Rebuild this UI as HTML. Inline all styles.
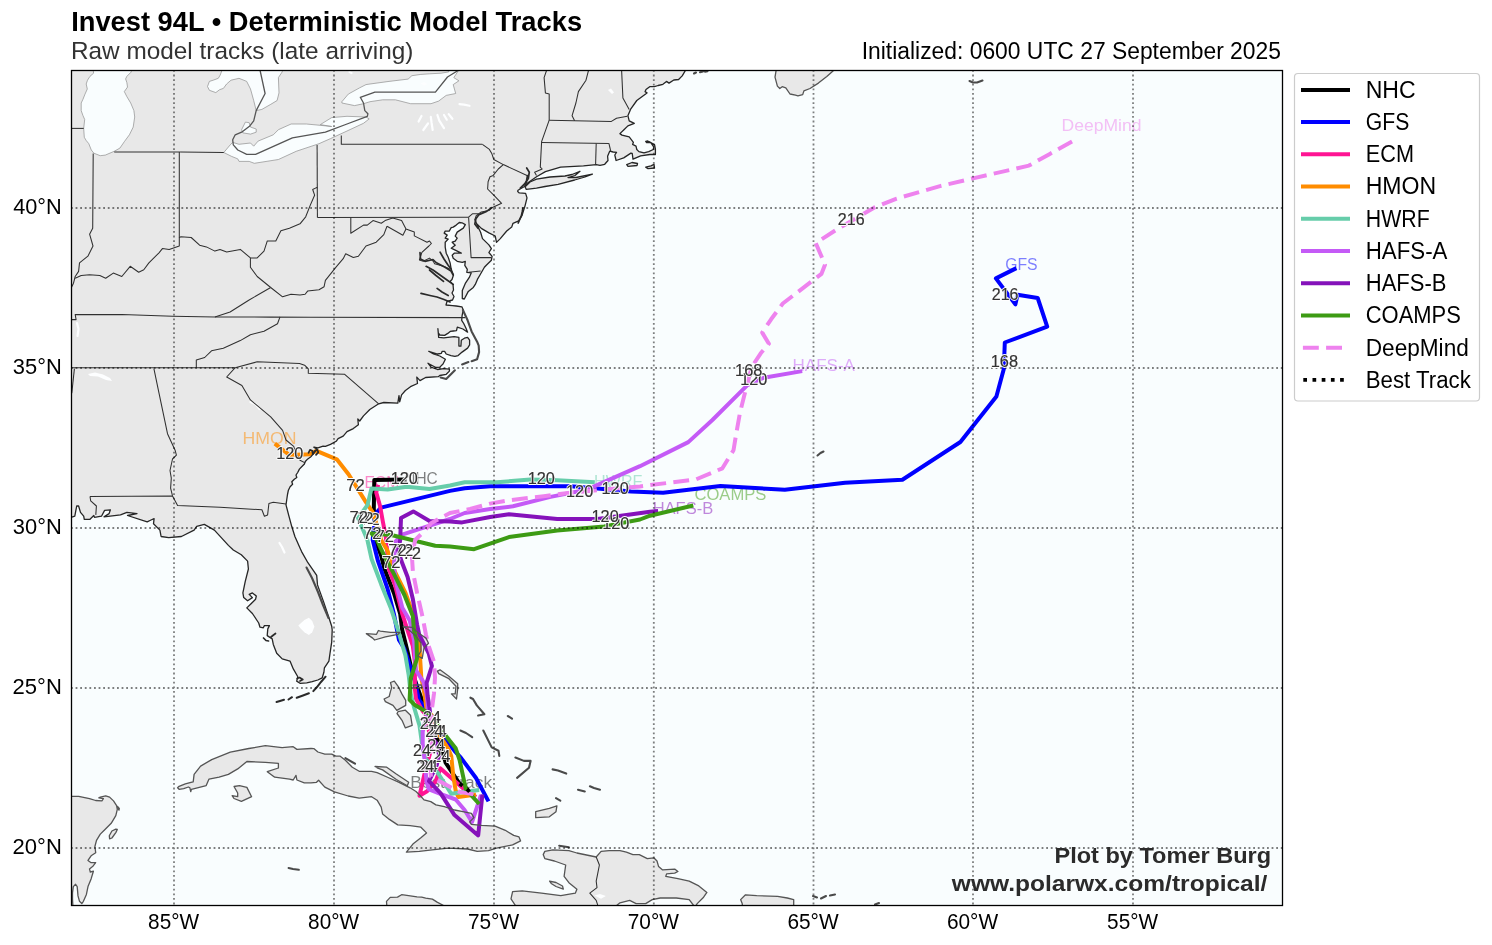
<!DOCTYPE html>
<html><head><meta charset="utf-8"><title>Invest 94L Model Tracks</title><style>html,body{margin:0;padding:0;background:#fff;}svg{display:block;will-change:transform;-webkit-font-smoothing:antialiased;}</style></head><body><svg width="1492" height="945" viewBox="0 0 1492 945" style="font-family:&quot;Liberation Sans&quot;, sans-serif">
<defs><clipPath id="mc"><rect x="71.0" y="70.0" width="1212.0" height="836.0"/></clipPath></defs>
<rect x="0" y="0" width="1492" height="945" fill="#ffffff"/>
<rect x="71.0" y="70.0" width="1212.0" height="836.0" fill="#f9fdfe"/>
<g clip-path="url(#mc)">
<path d="M71.0,70.0 L685.7,70.0 L682.2,75.9 L678.6,79.5 L673.8,80.0 L669.0,83.1 L666.5,81.4 L662.9,84.3 L658.1,85.5 L654.5,86.7 L649.7,86.7 L646.0,89.5 L645.1,91.6 L647.0,92.9 L636.8,100.5 L630.5,109.4 L627.9,115.7 L629.2,120.8 L634.3,123.3 L627.9,125.9 L623.7,130.0 L619.9,133.6 L622.0,135.1 L629.2,136.8 L633.4,142.3 L632.6,144.4 L636.0,146.1 L636.8,149.5 L638.9,151.6 L644.0,152.9 L648.7,151.6 L653.3,149.5 L653.7,146.9 L650.8,142.7 L647.8,141.0 L645.7,141.4 L646.6,142.7 L650.4,142.3 L654.6,144.8 L655.4,149.0 L655.4,154.5 L649.9,154.5 L640.6,155.8 L633.0,159.2 L632.2,153.3 L630.9,153.1 L623.7,157.9 L616.1,160.5 L614.8,155.0 L616.5,152.4 L613.1,152.0 L609.7,151.2 L607.6,156.2 L608.0,160.5 L604.7,164.3 L600.0,165.3 L596.2,164.6 L583.5,165.9 L560.6,167.1 L545.4,171.6 L536.5,176.7 L527.6,183.0 L524.5,186.5 L521.0,188.5 L518.0,190.2 L517.7,191.5 L519.3,192.9 L525.6,193.4 L527.0,197.9 L525.1,205.6 L521.9,215.7 L518.7,220.8 L513.0,223.3 L511.7,227.1 L506.7,231.0 L500.3,238.6 L496.5,242.4 L495.2,236.0 L488.9,232.9 L481.3,228.4 L476.2,223.3 L474.9,219.5 L477.5,225.9 L480.6,232.2 L482.5,238.6 L488.9,244.9 L491.4,248.7 L488.9,252.5 L492.1,256.3 L491.4,260.2 L486.3,265.2 L484.4,267.3 L480.4,274.3 L477.4,279.4 L475.3,284.4 L473.3,287.4 L468.3,291.4 L464.3,299.0 L462.3,298.5 L462.3,290.4 L465.3,283.4 L469.3,277.4 L471.3,272.8 L466.8,272.3 L467.3,269.3 L464.8,265.3 L465.3,261.3 L462.3,262.3 L457.2,261.3 L453.2,258.2 L452.2,255.2 L454.2,253.2 L461.3,253.2 L459.3,252.2 L453.2,249.2 L451.2,248.2 L455.2,245.2 L452.2,242.2 L455.2,241.1 L457.2,238.1 L455.2,236.1 L457.2,232.1 L463.3,228.1 L465.3,224.6 L462.0,222.8 L459.3,222.5 L456.2,225.1 L453.2,227.1 L451.2,227.6 L449.2,231.1 L445.2,231.1 L444.2,233.1 L447.2,235.1 L445.2,238.1 L448.2,239.1 L445.2,242.2 L445.2,247.2 L446.2,253.2 L448.2,257.2 L450.2,263.3 L451.2,269.3 L453.5,275.0 L452.0,279.5 L450.0,281.5 L453.0,284.5 L453.5,290.0 L452.0,293.0 L454.0,296.5 L452.5,300.0 L447.0,301.5 L446.0,305.0 L452.4,305.6 L456.2,306.0 L461.9,306.8 L463.3,310.0 L462.1,315.6 L461.7,320.3 L463.7,323.5 L466.0,328.3 L467.6,332.2 L462.9,329.0 L457.3,327.1 L456.5,330.6 L453.3,331.0 L450.2,331.4 L447.8,333.4 L444.6,335.4 L439.8,335.0 L438.3,333.0 L437.9,328.7 L438.7,337.4 L443.8,337.8 L454.1,336.6 L458.9,337.4 L458.9,346.1 L460.9,346.1 L461.3,340.2 L464.4,338.2 L467.6,337.4 L469.6,340.2 L469.6,344.9 L467.6,348.1 L462.1,352.1 L458.1,355.6 L454.9,356.4 L451.0,355.6 L446.2,354.0 L444.6,351.3 L442.2,351.3 L441.4,353.3 L437.5,354.0 L428.7,351.3 L433.5,354.0 L439.8,356.0 L445.4,359.2 L443.0,364.0 L439.8,367.1 L435.9,367.5 L427.9,363.2 L431.1,367.1 L437.5,369.5 L443.8,368.7 L449.4,369.1 L449.4,371.1 L446.2,374.3 L439.8,375.5 L438.3,376.7 L425.6,377.5 L420.0,380.6 L416.8,377.1 L417.5,383.5 L410.5,386.7 L405.4,390.5 L401.6,394.9 L399.7,401.9 L399.0,395.6 L397.8,403.2 L383.8,402.5 L378.7,403.8 L369.8,409.5 L363.5,415.9 L359.7,421.0 L357.8,419.0 L358.4,424.8 L353.3,428.6 L347.0,431.7 L343.2,436.2 L338.1,438.7 L336.2,441.3 L330.5,444.4 L325.4,446.3 L323.1,446.2 L318.0,447.9 L313.8,447.1 L317.1,449.2 L314.6,452.1 L311.2,456.4 L307.8,458.9 L305.3,461.5 L304.4,464.0 L301.9,466.5 L299.4,469.1 L297.7,472.5 L296.0,475.0 L296.8,477.5 L294.3,479.2 L291.8,481.8 L292.6,484.3 L290.1,486.8 L288.4,490.2 L287.5,494.5 L286.7,500.0 L286.0,504.8 L288.6,514.9 L291.7,526.3 L294.9,536.5 L300.0,547.9 L301.6,551.6 L307.9,562.7 L316.7,575.4 L317.5,584.9 L323.8,602.4 L328.6,616.7 L331.7,626.2 L332.2,630.0 L331.7,642.2 L330.0,653.3 L328.9,661.1 L324.4,667.8 L323.9,672.2 L322.2,677.8 L317.8,680.0 L312.2,681.7 L306.7,682.8 L300.0,683.3 L296.7,681.1 L297.8,676.7 L293.3,668.9 L290.0,661.1 L282.2,658.9 L276.7,653.3 L273.3,644.4 L272.2,638.9 L267.2,635.6 L267.8,628.9 L269.4,625.6 L264.4,625.6 L263.3,627.8 L260.0,627.2 L258.7,623.0 L252.4,613.5 L246.8,607.9 L250.8,604.0 L255.6,599.2 L256.3,596.0 L252.4,592.9 L249.2,594.4 L252.4,597.6 L247.6,600.8 L243.7,597.6 L242.9,592.9 L245.2,581.7 L248.4,569.0 L247.6,561.1 L241.3,554.8 L233.3,550.0 L228.4,545.4 L214.4,530.1 L204.3,524.4 L196.7,526.3 L194.1,530.1 L181.4,536.5 L168.7,537.7 L161.1,536.5 L159.9,530.1 L153.5,523.8 L154.1,518.7 L151.0,520.0 L147.2,521.9 L127.5,515.5 L137.0,513.6 L126.9,512.4 L120.5,514.9 L104.0,516.8 L109.1,513.6 L110.4,509.8 L104.6,510.4 L101.5,516.2 L94.5,517.4 L93.8,515.5 L90.0,519.3 L84.3,519.3 L83.7,516.2 L80.5,512.4 L78.6,506.0 L76.7,506.0 L74.8,516.2 L71.0,517.4 Z" fill="#e8e8e8" stroke="none"/>
<path d="M525.1,186.8 L530.0,182.0 L536.5,179.2 L550.0,177.0 L565.0,176.0 L572.0,174.5 L580.0,171.3 L575.0,175.5 L568.0,177.5 L576.0,177.5 L592.4,174.1 L585.0,177.0 L574.6,180.0 L558.1,184.3 L545.0,186.5 L536.5,188.1 L526.3,189.4 Z" fill="#e8e8e8" stroke="none"/>
<path d="M626.7,164.6 L632.0,162.5 L637.5,163.5 L637.0,165.5 L628.0,166.3 Z" fill="#e8e8e8" stroke="none"/>
<path d="M645.7,167.1 L651.0,165.8 L654.0,164.3 L654.5,168.0 L648.0,168.6 Z" fill="#e8e8e8" stroke="none"/>
<path d="M776.2,70.0 L775.0,77.1 L777.4,86.1 L779.8,88.5 L782.2,86.7 L785.8,87.9 L790.0,94.0 L795.5,95.2 L797.9,95.8 L802.7,94.6 L803.9,90.9 L810.0,88.5 L818.4,83.1 L826.8,76.5 L834.1,70.0 Z" fill="#e8e8e8" stroke="none"/>
<path d="M366.3,633.6 L372.7,638.1 L374.6,640.0 L385.4,636.8 L398.1,634.3 L400.0,632.4 L390.5,632.4 L380.3,631.1 L378.4,630.5 L376.5,634.3 Z" fill="#e8e8e8" stroke="none"/>
<path d="M403.2,626.7 L412.0,627.3 L418.4,633.0 L426.0,638.1 L428.5,643.2 L424.0,648.0 L422.2,658.4 L418.0,656.0 L421.0,651.0 L421.0,643.0 L416.0,636.0 L409.0,630.0 Z" fill="#e8e8e8" stroke="none"/>
<path d="M437.4,671.1 L440.0,669.8 L448.9,676.2 L457.7,683.8 L457.7,688.9 L456.5,699.0 L451.4,693.9 L455.2,693.9 L456.0,686.3 L448.9,678.7 L438.7,673.6 Z" fill="#e8e8e8" stroke="none"/>
<path d="M390.5,682.5 L394.3,681.2 L398.1,686.3 L401.9,693.9 L405.7,700.3 L405.7,705.4 L396.8,710.4 L393.0,705.4 L385.4,701.6 L384.1,699.0 L389.2,696.5 L390.5,691.4 L391.7,687.6 Z" fill="#e8e8e8" stroke="none"/>
<path d="M398.0,711.7 L405.4,710.2 L410.5,715.2 L412.2,725.4 L405.4,727.9 L402.0,720.3 L397.0,713.5 Z" fill="#e8e8e8" stroke="none"/>
<path d="M413.0,685.0 L421.0,684.8 L422.0,687.5 L414.0,688.0 Z" fill="#e8e8e8" stroke="none"/>
<path d="M535.7,811.7 L549.3,808.3 L556.9,805.8 L556.0,811.7 L549.3,816.8 L535.7,817.6 Z" fill="#e8e8e8" stroke="none"/>
<path d="M177.6,787.8 L179.1,786.3 L185.3,783.9 L191.0,782.4 L193.2,781.9 L194.1,774.4 L200.6,766.1 L211.7,759.6 L230.3,752.2 L248.8,748.5 L265.4,745.7 L282.1,747.6 L293.2,746.7 L296.9,749.4 L311.0,748.5 L313.8,748.6 L317.9,752.0 L324.8,754.1 L331.7,754.1 L335.8,756.1 L339.9,756.1 L345.4,760.3 L352.3,767.2 L359.2,771.3 L371.6,771.3 L377.1,772.7 L388.1,777.5 L399.1,782.3 L410.1,787.8 L416.0,791.5 L420.6,796.0 L424.0,799.9 L430.8,801.6 L435.9,804.9 L444.3,806.6 L454.5,810.0 L462.9,811.7 L471.4,813.4 L473.9,817.6 L469.7,821.9 L471.4,824.4 L481.6,825.3 L495.1,826.1 L505.3,830.3 L513.7,835.4 L519.0,836.9 L520.6,840.9 L512.6,844.9 L496.5,848.1 L488.5,850.6 L477.2,851.4 L467.6,849.0 L448.3,848.1 L432.2,849.8 L419.3,851.4 L406.4,852.2 L412.9,844.1 L420.9,837.7 L426.5,832.9 L420.9,827.2 L410.1,825.6 L397.7,824.9 L389.4,819.4 L382.6,813.9 L381.2,807.1 L377.1,800.2 L371.6,796.7 L359.2,798.1 L348.2,796.0 L334.4,791.9 L324.8,787.1 L318.6,780.2 L316.5,782.3 L311.0,782.8 L304.3,782.8 L296.9,780.0 L296.0,775.4 L293.2,780.0 L289.5,779.1 L274.7,777.2 L267.3,771.7 L278.4,768.0 L278.4,763.3 L265.4,762.4 L246.9,761.5 L237.7,768.9 L228.4,774.4 L219.1,777.2 L209.0,779.1 L206.2,785.6 L191.4,789.3 L190.7,791.7 L189.9,787.8 L188.4,787.0 L183.7,788.6 L179.1,789.3 Z" fill="#e8e8e8" stroke="none"/>
<path d="M375.0,766.5 L386.7,767.2 L396.3,774.0 L408.7,782.3 L407.3,785.7 L396.3,779.5 L382.6,769.9 L377.1,767.8 Z" fill="#e8e8e8" stroke="none"/>
<path d="M234.0,786.5 L239.5,785.6 L246.9,787.4 L251.6,796.7 L241.4,801.3 L234.0,798.5 L232.1,795.7 L237.7,796.7 L237.7,793.0 Z" fill="#e8e8e8" stroke="none"/>
<path d="M71.0,796.3 L78.7,796.3 L89.5,798.6 L95.7,800.5 L101.9,800.9 L103.4,798.6 L98.8,797.8 L100.3,797.1 L105.7,795.8 L109.6,797.1 L113.5,800.9 L116.6,805.6 L117.3,809.4 L115.8,815.6 L111.2,823.3 L105.0,829.5 L100.3,834.1 L96.5,840.3 L94.9,846.5 L95.7,852.7 L91.1,855.8 L88.0,860.4 L91.1,862.7 L95.7,862.7 L92.6,866.6 L89.5,868.9 L90.3,872.0 L93.4,871.2 L91.1,878.9 L88.0,886.6 L86.4,894.4 L83.4,901.3 L81.8,903.6 L79.5,901.3 L78.0,895.9 L77.2,886.6 L75.6,884.3 L73.3,886.6 L72.5,892.8 L72.5,899.0 L73.0,908.0 L69.0,908.0 L69.0,796.3 Z" fill="#e8e8e8" stroke="none"/>
<path d="M117.3,829.5 L115.8,832.6 L111.9,838.0 L109.6,838.8 L109.3,835.7 L111.9,831.0 L115.8,829.2 Z" fill="#e8e8e8" stroke="none"/>
<path d="M117.5,806.3 L119.3,808.5 L119.0,810.2 L117.8,808.5 Z" fill="#e8e8e8" stroke="none"/>
<path d="M543.2,854.6 L544.8,851.4 L552.8,849.8 L568.9,850.6 L576.9,853.0 L596.2,857.0 L601.1,851.4 L609.1,850.6 L620.0,850.6 L626.4,852.2 L632.9,854.6 L639.3,854.6 L647.3,858.6 L653.8,857.8 L657.0,861.0 L658.6,866.6 L662.6,869.9 L674.7,869.1 L677.9,871.5 L674.7,873.1 L666.6,873.9 L665.8,876.3 L677.9,878.7 L689.2,881.1 L698.8,885.9 L706.9,892.4 L703.6,897.2 L697.2,903.6 L695.6,906.0 L694.0,906.0 L689.2,899.6 L676.3,898.0 L660.2,898.0 L652.2,899.6 L645.7,903.6 L636.1,903.6 L629.7,900.4 L620.0,902.8 L616.0,906.0 L515.8,906.0 L511.0,898.8 L512.6,891.6 L522.2,890.8 L541.5,893.2 L560.8,895.6 L575.3,893.2 L576.9,889.2 L568.9,882.7 L564.1,876.3 L565.7,865.0 L554.4,861.0 L544.8,858.6 Z" fill="#e8e8e8" stroke="none"/>
<path d="M549.6,881.1 L556.0,882.5 L562.5,886.0 L563.3,889.2 L556.0,886.5 L551.2,883.5 Z" fill="#e8e8e8" stroke="none"/>
<path d="M742.2,903.6 L740.6,899.6 L745.5,894.8 L756.7,895.6 L777.6,896.4 L787.3,898.0 L793.7,899.6 L793.7,906.0 L742.5,906.0 Z" fill="#e8e8e8" stroke="none"/>
<path d="M386.8,906.0 L386.5,901.4 L390.2,897.4 L397.5,897.1 L401.6,894.7 L406.9,895.4 L417.0,896.8 L421.7,897.1 L425.7,898.1 L432.4,899.1 L437.1,902.1 L444.5,906.0 Z" fill="#e8e8e8" stroke="none"/>
<path d="M93.2,70.0 L93.6,73.2 L90.0,76.3 L87.5,80.2 L86.2,84.0 L87.3,89.0 L85.0,94.1 L83.0,99.2 L81.2,103.0 L81.2,110.6 L83.0,115.7 L84.7,119.5 L83.7,128.4 L84.3,137.3 L86.2,140.5 L88.8,143.7 L91.3,150.0 L93.9,153.2 L100.2,155.7 L105.3,155.1 L114.2,151.3 L119.9,148.1 L124.3,141.7 L129.4,134.8 L133.2,127.1 L134.7,117.0 L133.9,110.6 L130.7,103.0 L126.9,96.7 L124.3,91.6 L127.5,87.1 L126.9,82.7 L125.6,78.9 L126.9,76.3 L130.7,72.5 L132.0,70.0 Z" fill="#f9fdfe" stroke="none"/>
<path d="M222.1,70.0 L220.2,75.1 L218.3,78.3 L213.2,80.2 L209.4,81.4 L207.5,86.5 L209.4,90.3 L215.8,92.6 L219.6,89.7 L223.4,88.4 L226.6,84.0 L231.0,80.2 L239.0,78.3 L246.7,81.4 L250.5,89.0 L253.7,100.5 L256.2,110.6 L261.9,109.4 L270.8,104.3 L277.1,100.5 L279.0,92.9 L278.4,77.6 L282.2,71.9 L282.5,70.0 Z" fill="#f9fdfe" stroke="none"/>
<path d="M245.4,122.1 L249.2,122.7 L250.5,127.1 L256.2,129.0 L256.2,132.2 L250.5,134.1 L242.9,132.9 L241.6,129.7 Z" fill="#f9fdfe" stroke="none"/>
<path d="M223.8,152.5 L230.2,144.9 L232.7,142.4 L239.0,144.3 L250.5,143.0 L253.7,146.2 L258.1,141.1 L273.3,134.8 L278.4,129.7 L291.1,124.0 L306.3,124.0 L319.0,125.2 L331.7,126.5 L320.3,124.6 L331.7,117.6 L347.0,116.3 L366.0,117.0 L369.2,118.9 L363.5,123.3 L347.0,131.0 L330.5,138.6 L319.0,143.7 L296.2,151.3 L278.4,159.5 L254.3,163.3 L249.2,161.4 L239.0,161.4 L237.8,158.9 L231.4,156.3 Z" fill="#f9fdfe" stroke="none"/>
<path d="M370.0,84.0 L389.0,81.4 L408.1,79.1 L411.9,75.7 L420.8,74.4 L429.7,73.8 L441.1,73.2 L448.7,71.9 L449.0,70.0 L458.9,70.0 L453.8,77.6 L458.9,80.8 L453.2,84.6 L455.7,93.5 L446.2,95.4 L438.6,101.1 L431.0,103.7 L410.6,103.7 L395.4,99.8 L382.7,99.8 L370.0,101.7 L363.5,103.7 L354.6,105.6 L341.9,103.0 L341.9,101.7 L348.3,94.1 L359.7,87.8 L366.0,84.6 Z" fill="#f9fdfe" stroke="none"/>
<path d="M298.3,625.6 L304.4,620.0 L308.9,617.8 L312.2,621.1 L314.4,626.7 L312.2,632.2 L308.9,635.0 L304.4,632.2 L301.1,628.9 Z" fill="#fdfeff" stroke="none"/>
<path d="M88.0,374.0 L95.0,372.5 L103.0,374.5 L110.0,378.0 L112.0,381.0 L106.0,380.0 L98.0,376.5 L90.0,376.0 Z" fill="#fdfeff" stroke="none"/>
<path d="M420.5,83.5 L424.0,82.0 L427.5,84.0 L424.0,85.5 Z" fill="#fdfeff" stroke="none"/>
<path d="M608.0,90.0 L611.0,88.5 L614.0,92.5 L612.0,94.0 Z" fill="#fdfeff" stroke="none"/>
<path d="M594.6,895.5 L600.0,894.0 L605.9,896.0 L601.0,898.8 Z" fill="#fdfeff" stroke="none"/>
<path d="M459.5,104.2 L464.0,104.6 L469.5,105.8" fill="none" stroke="#fdfeff" stroke-width="2.2" stroke-linecap="round" stroke-linejoin="round"/>
<path d="M418.6,121.6 L421.5,116.0" fill="none" stroke="#fdfeff" stroke-width="2.2" stroke-linecap="round" stroke-linejoin="round"/>
<path d="M423.3,130.0 L428.0,123.5" fill="none" stroke="#fdfeff" stroke-width="2.2" stroke-linecap="round" stroke-linejoin="round"/>
<path d="M430.8,116.9 L431.6,123.0 L432.7,130.0" fill="none" stroke="#fdfeff" stroke-width="2.2" stroke-linecap="round" stroke-linejoin="round"/>
<path d="M437.4,115.0 L439.3,120.7 L444.0,128.2" fill="none" stroke="#fdfeff" stroke-width="2.2" stroke-linecap="round" stroke-linejoin="round"/>
<path d="M444.0,115.0 L446.8,119.7" fill="none" stroke="#fdfeff" stroke-width="2.2" stroke-linecap="round" stroke-linejoin="round"/>
<path d="M448.7,114.1 L452.4,118.8" fill="none" stroke="#fdfeff" stroke-width="2.2" stroke-linecap="round" stroke-linejoin="round"/>
<path d="M349.5,72.0 L351.5,73.0" fill="none" stroke="#fdfeff" stroke-width="2.2" stroke-linecap="round" stroke-linejoin="round"/>
<path d="M279.5,543.0 L282.0,547.0 L284.5,552.5" fill="none" stroke="#fdfeff" stroke-width="2.2" stroke-linecap="round" stroke-linejoin="round"/>
<path d="M250.5,402.0 L256.0,404.5 L259.5,409.0" fill="none" stroke="#fdfeff" stroke-width="2.2" stroke-linecap="round" stroke-linejoin="round"/>
<path d="M77.0,323.0 L78.5,329.0 L77.5,336.0" fill="none" stroke="#fdfeff" stroke-width="2.2" stroke-linecap="round" stroke-linejoin="round"/>
<text x="242.56" y="444.10" font-size="17.2" textLength="54.03" lengthAdjust="spacingAndGlyphs" fill="#ff8c00" fill-opacity="0.5">HMON</text>
<text x="364.42" y="487.60" font-size="17.2" textLength="34.87" lengthAdjust="spacingAndGlyphs" fill="#ff1493" fill-opacity="0.5">ECM</text>
<text x="404.24" y="483.80" font-size="17.2" textLength="33.55" lengthAdjust="spacingAndGlyphs" fill="#000000" fill-opacity="0.5">NHC</text>
<text x="594.09" y="486.90" font-size="17.2" textLength="48.25" lengthAdjust="spacingAndGlyphs" fill="#66cdaa" fill-opacity="0.5">HWRF</text>
<text x="694.43" y="500.40" font-size="17.2" textLength="71.99" lengthAdjust="spacingAndGlyphs" fill="#3d9b14" fill-opacity="0.5">COAMPS</text>
<text x="652.66" y="513.50" font-size="17.2" textLength="60.58" lengthAdjust="spacingAndGlyphs" fill="#8512ba" fill-opacity="0.5">HAFS-B</text>
<text x="792.62" y="371.10" font-size="17.2" textLength="62.25" lengthAdjust="spacingAndGlyphs" fill="#c45af6" fill-opacity="0.5">HAFS-A</text>
<text x="1005.17" y="270.40" font-size="17.2" textLength="32.52" lengthAdjust="spacingAndGlyphs" fill="#0000ff" fill-opacity="0.5">GFS</text>
<text x="1061.57" y="131.00" font-size="17.2" textLength="79.95" lengthAdjust="spacingAndGlyphs" fill="#ee82ee" fill-opacity="0.5">DeepMind</text>
<text x="410.19" y="788.30" font-size="17.2" textLength="81.86" lengthAdjust="spacingAndGlyphs" fill="#000000" fill-opacity="0.5">Best Track</text>
<path d="M473.5,795.7 L466.5,788.7 L459.5,783.7 L445.6,762.7 L441.8,748.3 L435.4,735.6 L431.7,731.2 L425.5,710.4 L422.0,700.0 L418.1,689.3 L411.7,670.2 L407.5,651.2 L402.2,630.0 L400.2,614.0 L393.9,592.9 L384.3,568.6 L381.2,555.9 L376.9,544.2 L373.8,509.0 L374.3,480.0 L405.7,479.5" fill="none" stroke="#000000" stroke-width="4.0" stroke-linejoin="round" stroke-linecap="butt"/>
<path d="M488.5,801.4 L476.0,778.0 L460.8,757.6 L454.5,750.8 L445.6,739.4 L437.0,731.2 L425.5,710.4 L422.3,704.1 L419.0,700.0 L414.9,680.8 L410.7,668.1 L404.0,648.0 L399.0,640.0 L393.9,614.0 L387.5,588.7 L378.0,561.2 L372.7,540.0 L374.5,520.0 L377.0,512.0 L381.0,507.6 L450.0,490.9 L464.7,488.2 L490.2,486.2 L570.6,486.2 L594.8,488.2 L631.0,491.6 L663.1,492.8 L720.4,486.0 L784.8,489.8 L845.1,482.7 L902.4,479.7 L960.4,442.0 L996.4,396.5 L1003.8,368.9 L1004.8,342.5 L1047.2,326.6 L1037.7,298.0 L1017.5,294.8 L1015.4,304.4 L995.9,278.4 L1016.4,268.1" fill="none" stroke="#0000ff" stroke-width="4.0" stroke-linejoin="round" stroke-linecap="butt"/>
<path d="M476.0,797.0 L462.7,788.1 L440.5,768.4 L435.4,781.7 L427.1,791.3 L419.5,795.7 L424.6,773.5 L429.6,755.0 L431.7,744.9 L429.6,735.4 L426.6,715.7 L422.3,710.4 L416.0,698.8 L414.9,689.3 L414.9,661.7 L412.8,645.9 L407.5,630.0 L402.3,614.0 L394.9,584.4 L388.6,568.6 L386.5,543.2 L385.7,536.2 L382.9,521.9 L380.0,505.7 L376.2,492.4 L378.1,484.8" fill="none" stroke="#ff1493" stroke-width="4.0" stroke-linejoin="round" stroke-linecap="butt"/>
<path d="M476.0,794.4 L458.3,797.0 L455.7,790.6 L453.2,775.4 L451.3,756.3 L448.1,748.3 L437.3,731.8 L432.9,716.8 L426.6,709.4 L424.4,693.5 L421.3,677.6 L420.2,659.6 L419.0,640.0 L415.0,619.4 L405.5,592.9 L394.9,571.7 L387.5,550.6 L381.2,540.0 L373.3,513.3 L372.4,511.8 L365.6,501.6 L348.7,474.5 L336.8,459.3 L316.5,450.8 L309.7,454.2 L289.4,455.0 L274.8,443.7" fill="none" stroke="#ff8c00" stroke-width="4.0" stroke-linejoin="round" stroke-linecap="butt"/>
<path d="M479.2,790.0 L468.4,791.3 L451.3,793.8 L444.3,783.0 L437.3,772.2 L425.0,758.0 L422.1,744.5 L419.5,725.4 L413.8,706.4 L410.7,693.5 L408.6,674.4 L405.4,655.4 L398.0,630.0 L390.7,607.7 L381.2,584.4 L371.6,559.0 L367.4,540.0 L363.8,531.4 L358.1,518.1 L367.6,504.8 L371.4,488.6 L387.6,489.5 L406.7,486.7 L429.5,489.0 L450.0,485.5 L464.7,482.2 L496.9,482.2 L530.4,479.5 L557.2,480.2 L594.8,482.2" fill="none" stroke="#66cdaa" stroke-width="4.0" stroke-linejoin="round" stroke-linecap="butt"/>
<path d="M481.0,795.0 L472.0,822.0 L464.6,810.0 L455.7,799.5 L441.7,794.4 L429.0,789.4 L426.5,781.7 L425.9,774.1 L424.6,760.0 L422.7,744.5 L422.7,731.8 L427.6,711.5 L427.6,704.1 L426.6,693.5 L423.4,681.9 L416.0,670.2 L414.0,640.0 L409.7,620.4 L402.3,607.7 L397.0,586.6 L393.9,567.5 L394.9,542.1 L402.9,534.3 L450.0,519.0 L464.7,513.0 L490.2,509.0 L513.0,506.3 L550.5,496.9 L584.0,490.2 L594.8,486.2 L640.0,466.2 L688.3,442.1 L712.4,420.0 L747.4,385.2 L763.7,377.8 L802.2,371.1" fill="none" stroke="#c45af6" stroke-width="4.0" stroke-linejoin="round" stroke-linecap="butt"/>
<path d="M482.4,794.4 L478.2,835.4 L454.5,815.1 L440.5,793.2 L429.0,781.1 L436.7,765.2 L439.0,755.0 L437.3,744.5 L432.2,738.1 L429.7,709.4 L427.6,695.6 L426.6,682.9 L431.9,666.0 L428.7,653.3 L422.3,640.6 L419.3,635.0 L417.1,624.7 L412.9,599.3 L407.6,577.0 L402.3,563.3 L398.1,550.6 L400.2,540.0 L401.0,518.1 L413.3,511.4 L429.5,521.0 L450.0,521.5 L462.1,522.4 L490.2,517.0 L509.0,514.3 L557.2,519.0 L597.5,519.0 L650.0,511.7 L658.1,510.9" fill="none" stroke="#8512ba" stroke-width="4.0" stroke-linejoin="round" stroke-linecap="butt"/>
<path d="M479.2,804.0 L465.9,789.4 L459.6,760.0 L455.7,748.3 L445.6,735.6 L432.9,717.2 L425.9,711.4 L414.9,705.1 L409.6,699.8 L410.7,678.7 L417.0,658.6 L416.5,640.6 L413.9,630.0 L412.9,616.2 L404.4,595.0 L393.9,573.9 L384.3,555.9 L376.9,540.0 L371.4,533.3 L392.4,535.2 L435.2,545.7 L450.0,546.5 L474.1,549.2 L509.0,537.1 L557.2,530.4 L604.2,526.4 L640.0,519.5 L650.0,515.7 L693.3,505.5" fill="none" stroke="#3d9b14" stroke-width="4.0" stroke-linejoin="round" stroke-linecap="butt"/>
<path d="M473.5,794.4 L459.5,791.9 L439.2,781.1 L431.0,776.7 L430.3,770.3 L431.0,740.0 L431.6,711.4 L434.0,693.5 L435.0,677.6 L434.0,661.7 L428.7,645.9 L426.0,635.0 L422.4,616.2 L417.1,592.9 L412.9,571.7 L411.9,555.9 L415.2,540.0 L422.9,532.4 L431.4,522.9 L450.0,513.0 L470.1,509.0 L490.2,503.6 L509.0,500.3 L543.8,496.2 L568.0,492.9 L597.5,490.2 L640.0,486.4 L696.3,479.3 L722.4,468.3 L733.5,450.2 L736.0,435.0 L740.0,412.6 L745.9,388.9 L751.9,366.7 L760.7,353.3 L768.9,343.7 L762.2,332.6 L771.1,319.3 L782.8,303.5 L821.5,273.8 L825.0,264.7 L815.8,243.1 L835.2,230.5 L874.0,207.7 L896.7,198.6 L940.0,186.1 L974.2,178.1 L1028.9,165.6 L1049.4,154.2 L1077.9,138.2" fill="none" stroke="#ee82ee" stroke-width="4.0" stroke-linejoin="round" stroke-linecap="butt" stroke-dasharray="15.9 7.3"/>
<path d="M459.5,783.7 L466.5,788.7 L473.5,795.7" fill="none" stroke="#000" stroke-width="3.7" stroke-dasharray="3.7 5.5"/>
<path d="M685.7,70.0 L682.2,75.9 L678.6,79.5 L673.8,80.0 L669.0,83.1 L666.5,81.4 L662.9,84.3 L658.1,85.5 L654.5,86.7 L649.7,86.7 L646.0,89.5 L645.1,91.6 L647.0,92.9 L636.8,100.5 L630.5,109.4 L627.9,115.7 L629.2,120.8 L634.3,123.3 L627.9,125.9 L623.7,130.0 L619.9,133.6 L622.0,135.1 L629.2,136.8 L633.4,142.3 L632.6,144.4 L636.0,146.1 L636.8,149.5 L638.9,151.6 L644.0,152.9 L648.7,151.6 L653.3,149.5 L653.7,146.9 L650.8,142.7 L647.8,141.0 L645.7,141.4 L646.6,142.7 L650.4,142.3 L654.6,144.8 L655.4,149.0 L655.4,154.5 L649.9,154.5 L640.6,155.8 L633.0,159.2 L632.2,153.3 L630.9,153.1 L623.7,157.9 L616.1,160.5 L614.8,155.0 L616.5,152.4 L613.1,152.0 L609.7,151.2 L607.6,156.2 L608.0,160.5 L604.7,164.3 L600.0,165.3 L596.2,164.6 L583.5,165.9 L560.6,167.1 L545.4,171.6 L536.5,176.7 L527.6,183.0 L524.5,186.5 L521.0,188.5 L518.0,190.2 L517.7,191.5 L519.3,192.9 L525.6,193.4 L527.0,197.9 L525.1,205.6 L521.9,215.7 L518.7,220.8 L513.0,223.3 L511.7,227.1 L506.7,231.0 L500.3,238.6 L496.5,242.4 L495.2,236.0 L488.9,232.9 L481.3,228.4 L476.2,223.3 L474.9,219.5 L477.5,225.9 L480.6,232.2 L482.5,238.6 L488.9,244.9 L491.4,248.7 L488.9,252.5 L492.1,256.3 L491.4,260.2 L486.3,265.2 L484.4,267.3 L480.4,274.3 L477.4,279.4 L475.3,284.4 L473.3,287.4 L468.3,291.4 L464.3,299.0 L462.3,298.5 L462.3,290.4 L465.3,283.4 L469.3,277.4 L471.3,272.8 L466.8,272.3 L467.3,269.3 L464.8,265.3 L465.3,261.3 L462.3,262.3 L457.2,261.3 L453.2,258.2 L452.2,255.2 L454.2,253.2 L461.3,253.2 L459.3,252.2 L453.2,249.2 L451.2,248.2 L455.2,245.2 L452.2,242.2 L455.2,241.1 L457.2,238.1 L455.2,236.1 L457.2,232.1 L463.3,228.1 L465.3,224.6 L462.0,222.8 L459.3,222.5 L456.2,225.1 L453.2,227.1 L451.2,227.6 L449.2,231.1 L445.2,231.1 L444.2,233.1 L447.2,235.1 L445.2,238.1 L448.2,239.1 L445.2,242.2 L445.2,247.2 L446.2,253.2 L448.2,257.2 L450.2,263.3 L451.2,269.3 L453.5,275.0 L452.0,279.5 L450.0,281.5 L453.0,284.5 L453.5,290.0 L452.0,293.0 L454.0,296.5 L452.5,300.0 L447.0,301.5 L446.0,305.0 L452.4,305.6 L456.2,306.0 L461.9,306.8 L463.3,310.0 L462.1,315.6 L461.7,320.3 L463.7,323.5 L466.0,328.3 L467.6,332.2 L462.9,329.0 L457.3,327.1 L456.5,330.6 L453.3,331.0 L450.2,331.4 L447.8,333.4 L444.6,335.4 L439.8,335.0 L438.3,333.0 L437.9,328.7 L438.7,337.4 L443.8,337.8 L454.1,336.6 L458.9,337.4 L458.9,346.1 L460.9,346.1 L461.3,340.2 L464.4,338.2 L467.6,337.4 L469.6,340.2 L469.6,344.9 L467.6,348.1 L462.1,352.1 L458.1,355.6 L454.9,356.4 L451.0,355.6 L446.2,354.0 L444.6,351.3 L442.2,351.3 L441.4,353.3 L437.5,354.0 L428.7,351.3 L433.5,354.0 L439.8,356.0 L445.4,359.2 L443.0,364.0 L439.8,367.1 L435.9,367.5 L427.9,363.2 L431.1,367.1 L437.5,369.5 L443.8,368.7 L449.4,369.1 L449.4,371.1 L446.2,374.3 L439.8,375.5 L438.3,376.7 L425.6,377.5 L420.0,380.6 L416.8,377.1 L417.5,383.5 L410.5,386.7 L405.4,390.5 L401.6,394.9 L399.7,401.9 L399.0,395.6 L397.8,403.2 L383.8,402.5 L378.7,403.8 L369.8,409.5 L363.5,415.9 L359.7,421.0 L357.8,419.0 L358.4,424.8 L353.3,428.6 L347.0,431.7 L343.2,436.2 L338.1,438.7 L336.2,441.3 L330.5,444.4 L325.4,446.3 L323.1,446.2 L318.0,447.9 L313.8,447.1 L317.1,449.2 L314.6,452.1 L311.2,456.4 L307.8,458.9 L305.3,461.5 L304.4,464.0 L301.9,466.5 L299.4,469.1 L297.7,472.5 L296.0,475.0 L296.8,477.5 L294.3,479.2 L291.8,481.8 L292.6,484.3 L290.1,486.8 L288.4,490.2 L287.5,494.5 L286.7,500.0 L286.0,504.8 L288.6,514.9 L291.7,526.3 L294.9,536.5 L300.0,547.9 L301.6,551.6 L307.9,562.7 L316.7,575.4 L317.5,584.9 L323.8,602.4 L328.6,616.7 L331.7,626.2 L332.2,630.0 L331.7,642.2 L330.0,653.3 L328.9,661.1 L324.4,667.8 L323.9,672.2 L322.2,677.8 L317.8,680.0 L312.2,681.7 L306.7,682.8 L300.0,683.3 L296.7,681.1 L297.8,676.7 L293.3,668.9 L290.0,661.1 L282.2,658.9 L276.7,653.3 L273.3,644.4 L272.2,638.9 L267.2,635.6 L267.8,628.9 L269.4,625.6 L264.4,625.6 L263.3,627.8 L260.0,627.2 L258.7,623.0 L252.4,613.5 L246.8,607.9 L250.8,604.0 L255.6,599.2 L256.3,596.0 L252.4,592.9 L249.2,594.4 L252.4,597.6 L247.6,600.8 L243.7,597.6 L242.9,592.9 L245.2,581.7 L248.4,569.0 L247.6,561.1 L241.3,554.8 L233.3,550.0 L228.4,545.4 L214.4,530.1 L204.3,524.4 L196.7,526.3 L194.1,530.1 L181.4,536.5 L168.7,537.7 L161.1,536.5 L159.9,530.1 L153.5,523.8 L154.1,518.7 L151.0,520.0 L147.2,521.9 L127.5,515.5 L137.0,513.6 L126.9,512.4 L120.5,514.9 L104.0,516.8 L109.1,513.6 L110.4,509.8 L104.6,510.4 L101.5,516.2 L94.5,517.4 L93.8,515.5 L90.0,519.3 L84.3,519.3 L83.7,516.2 L80.5,512.4 L78.6,506.0 L76.7,506.0 L74.8,516.2 L71.0,517.4" fill="none" stroke="#262626" stroke-width="1.3" stroke-linejoin="round"/>
<path d="M93.2,70.0 L93.6,73.2 L90.0,76.3 L87.5,80.2 L86.2,84.0 L87.3,89.0 L85.0,94.1 L83.0,99.2 L81.2,103.0 L81.2,110.6 L83.0,115.7 L84.7,119.5 L83.7,128.4 L84.3,137.3 L86.2,140.5 L88.8,143.7 L91.3,150.0 L93.9,153.2 L100.2,155.7 L105.3,155.1 L114.2,151.3 L119.9,148.1 L124.3,141.7 L129.4,134.8 L133.2,127.1 L134.7,117.0 L133.9,110.6 L130.7,103.0 L126.9,96.7 L124.3,91.6 L127.5,87.1 L126.9,82.7 L125.6,78.9 L126.9,76.3 L130.7,72.5 L132.0,70.0 Z" fill="none" stroke="#8e8e8e" stroke-width="0.7" stroke-linejoin="round"/>
<path d="M222.1,70.0 L220.2,75.1 L218.3,78.3 L213.2,80.2 L209.4,81.4 L207.5,86.5 L209.4,90.3 L215.8,92.6 L219.6,89.7 L223.4,88.4 L226.6,84.0 L231.0,80.2 L239.0,78.3 L246.7,81.4 L250.5,89.0 L253.7,100.5 L256.2,110.6 L261.9,109.4 L270.8,104.3 L277.1,100.5 L279.0,92.9 L278.4,77.6 L282.2,71.9 L282.5,70.0 Z" fill="none" stroke="#8e8e8e" stroke-width="0.7" stroke-linejoin="round"/>
<path d="M245.4,122.1 L249.2,122.7 L250.5,127.1 L256.2,129.0 L256.2,132.2 L250.5,134.1 L242.9,132.9 L241.6,129.7 Z" fill="none" stroke="#8e8e8e" stroke-width="0.7" stroke-linejoin="round"/>
<path d="M223.8,152.5 L230.2,144.9 L232.7,142.4 L239.0,144.3 L250.5,143.0 L253.7,146.2 L258.1,141.1 L273.3,134.8 L278.4,129.7 L291.1,124.0 L306.3,124.0 L319.0,125.2 L331.7,126.5 L320.3,124.6 L331.7,117.6 L347.0,116.3 L366.0,117.0 L369.2,118.9 L363.5,123.3 L347.0,131.0 L330.5,138.6 L319.0,143.7 L296.2,151.3 L278.4,159.5 L254.3,163.3 L249.2,161.4 L239.0,161.4 L237.8,158.9 L231.4,156.3 Z" fill="none" stroke="#8e8e8e" stroke-width="0.7" stroke-linejoin="round"/>
<path d="M370.0,84.0 L389.0,81.4 L408.1,79.1 L411.9,75.7 L420.8,74.4 L429.7,73.8 L441.1,73.2 L448.7,71.9 L449.0,70.0 L458.9,70.0 L453.8,77.6 L458.9,80.8 L453.2,84.6 L455.7,93.5 L446.2,95.4 L438.6,101.1 L431.0,103.7 L410.6,103.7 L395.4,99.8 L382.7,99.8 L370.0,101.7 L363.5,103.7 L354.6,105.6 L341.9,103.0 L341.9,101.7 L348.3,94.1 L359.7,87.8 L366.0,84.6 Z" fill="none" stroke="#8e8e8e" stroke-width="0.7" stroke-linejoin="round"/>
<path d="M525.1,186.8 L530.0,182.0 L536.5,179.2 L550.0,177.0 L565.0,176.0 L572.0,174.5 L580.0,171.3 L575.0,175.5 L568.0,177.5 L576.0,177.5 L592.4,174.1 L585.0,177.0 L574.6,180.0 L558.1,184.3 L545.0,186.5 L536.5,188.1 L526.3,189.4 Z" fill="none" stroke="#262626" stroke-width="1.3" stroke-linejoin="round"/>
<path d="M626.7,164.6 L632.0,162.5 L637.5,163.5 L637.0,165.5 L628.0,166.3 Z" fill="none" stroke="#262626" stroke-width="1.3" stroke-linejoin="round"/>
<path d="M645.7,167.1 L651.0,165.8 L654.0,164.3 L654.5,168.0 L648.0,168.6 Z" fill="none" stroke="#262626" stroke-width="1.3" stroke-linejoin="round"/>
<path d="M776.2,70.0 L775.0,77.1 L777.4,86.1 L779.8,88.5 L782.2,86.7 L785.8,87.9 L790.0,94.0 L795.5,95.2 L797.9,95.8 L802.7,94.6 L803.9,90.9 L810.0,88.5 L818.4,83.1 L826.8,76.5 L834.1,70.0 Z" fill="none" stroke="#555555" stroke-width="1.3" stroke-linejoin="round"/>
<path d="M366.3,633.6 L372.7,638.1 L374.6,640.0 L385.4,636.8 L398.1,634.3 L400.0,632.4 L390.5,632.4 L380.3,631.1 L378.4,630.5 L376.5,634.3 Z" fill="none" stroke="#555555" stroke-width="1.3" stroke-linejoin="round"/>
<path d="M403.2,626.7 L412.0,627.3 L418.4,633.0 L426.0,638.1 L428.5,643.2 L424.0,648.0 L422.2,658.4 L418.0,656.0 L421.0,651.0 L421.0,643.0 L416.0,636.0 L409.0,630.0 Z" fill="none" stroke="#555555" stroke-width="1.3" stroke-linejoin="round"/>
<path d="M437.4,671.1 L440.0,669.8 L448.9,676.2 L457.7,683.8 L457.7,688.9 L456.5,699.0 L451.4,693.9 L455.2,693.9 L456.0,686.3 L448.9,678.7 L438.7,673.6 Z" fill="none" stroke="#555555" stroke-width="1.3" stroke-linejoin="round"/>
<path d="M390.5,682.5 L394.3,681.2 L398.1,686.3 L401.9,693.9 L405.7,700.3 L405.7,705.4 L396.8,710.4 L393.0,705.4 L385.4,701.6 L384.1,699.0 L389.2,696.5 L390.5,691.4 L391.7,687.6 Z" fill="none" stroke="#555555" stroke-width="1.3" stroke-linejoin="round"/>
<path d="M398.0,711.7 L405.4,710.2 L410.5,715.2 L412.2,725.4 L405.4,727.9 L402.0,720.3 L397.0,713.5 Z" fill="none" stroke="#555555" stroke-width="1.3" stroke-linejoin="round"/>
<path d="M413.0,685.0 L421.0,684.8 L422.0,687.5 L414.0,688.0 Z" fill="none" stroke="#555555" stroke-width="1.3" stroke-linejoin="round"/>
<path d="M535.7,811.7 L549.3,808.3 L556.9,805.8 L556.0,811.7 L549.3,816.8 L535.7,817.6 Z" fill="none" stroke="#555555" stroke-width="1.3" stroke-linejoin="round"/>
<path d="M177.6,787.8 L179.1,786.3 L185.3,783.9 L191.0,782.4 L193.2,781.9 L194.1,774.4 L200.6,766.1 L211.7,759.6 L230.3,752.2 L248.8,748.5 L265.4,745.7 L282.1,747.6 L293.2,746.7 L296.9,749.4 L311.0,748.5 L313.8,748.6 L317.9,752.0 L324.8,754.1 L331.7,754.1 L335.8,756.1 L339.9,756.1 L345.4,760.3 L352.3,767.2 L359.2,771.3 L371.6,771.3 L377.1,772.7 L388.1,777.5 L399.1,782.3 L410.1,787.8 L416.0,791.5 L420.6,796.0 L424.0,799.9 L430.8,801.6 L435.9,804.9 L444.3,806.6 L454.5,810.0 L462.9,811.7 L471.4,813.4 L473.9,817.6 L469.7,821.9 L471.4,824.4 L481.6,825.3 L495.1,826.1 L505.3,830.3 L513.7,835.4 L519.0,836.9 L520.6,840.9 L512.6,844.9 L496.5,848.1 L488.5,850.6 L477.2,851.4 L467.6,849.0 L448.3,848.1 L432.2,849.8 L419.3,851.4 L406.4,852.2 L412.9,844.1 L420.9,837.7 L426.5,832.9 L420.9,827.2 L410.1,825.6 L397.7,824.9 L389.4,819.4 L382.6,813.9 L381.2,807.1 L377.1,800.2 L371.6,796.7 L359.2,798.1 L348.2,796.0 L334.4,791.9 L324.8,787.1 L318.6,780.2 L316.5,782.3 L311.0,782.8 L304.3,782.8 L296.9,780.0 L296.0,775.4 L293.2,780.0 L289.5,779.1 L274.7,777.2 L267.3,771.7 L278.4,768.0 L278.4,763.3 L265.4,762.4 L246.9,761.5 L237.7,768.9 L228.4,774.4 L219.1,777.2 L209.0,779.1 L206.2,785.6 L191.4,789.3 L190.7,791.7 L189.9,787.8 L188.4,787.0 L183.7,788.6 L179.1,789.3 Z" fill="none" stroke="#555555" stroke-width="1.3" stroke-linejoin="round"/>
<path d="M375.0,766.5 L386.7,767.2 L396.3,774.0 L408.7,782.3 L407.3,785.7 L396.3,779.5 L382.6,769.9 L377.1,767.8 Z" fill="none" stroke="#555555" stroke-width="1.3" stroke-linejoin="round"/>
<path d="M234.0,786.5 L239.5,785.6 L246.9,787.4 L251.6,796.7 L241.4,801.3 L234.0,798.5 L232.1,795.7 L237.7,796.7 L237.7,793.0 Z" fill="none" stroke="#555555" stroke-width="1.3" stroke-linejoin="round"/>
<path d="M71.0,796.3 L78.7,796.3 L89.5,798.6 L95.7,800.5 L101.9,800.9 L103.4,798.6 L98.8,797.8 L100.3,797.1 L105.7,795.8 L109.6,797.1 L113.5,800.9 L116.6,805.6 L117.3,809.4 L115.8,815.6 L111.2,823.3 L105.0,829.5 L100.3,834.1 L96.5,840.3 L94.9,846.5 L95.7,852.7 L91.1,855.8 L88.0,860.4 L91.1,862.7 L95.7,862.7 L92.6,866.6 L89.5,868.9 L90.3,872.0 L93.4,871.2 L91.1,878.9 L88.0,886.6 L86.4,894.4 L83.4,901.3 L81.8,903.6 L79.5,901.3 L78.0,895.9 L77.2,886.6 L75.6,884.3 L73.3,886.6 L72.5,892.8 L72.5,899.0 L73.0,908.0 L69.0,908.0 L69.0,796.3 Z" fill="none" stroke="#555555" stroke-width="1.3" stroke-linejoin="round"/>
<path d="M117.3,829.5 L115.8,832.6 L111.9,838.0 L109.6,838.8 L109.3,835.7 L111.9,831.0 L115.8,829.2 Z" fill="none" stroke="#555555" stroke-width="1.3" stroke-linejoin="round"/>
<path d="M117.5,806.3 L119.3,808.5 L119.0,810.2 L117.8,808.5 Z" fill="none" stroke="#555555" stroke-width="1.3" stroke-linejoin="round"/>
<path d="M543.2,854.6 L544.8,851.4 L552.8,849.8 L568.9,850.6 L576.9,853.0 L596.2,857.0 L601.1,851.4 L609.1,850.6 L620.0,850.6 L626.4,852.2 L632.9,854.6 L639.3,854.6 L647.3,858.6 L653.8,857.8 L657.0,861.0 L658.6,866.6 L662.6,869.9 L674.7,869.1 L677.9,871.5 L674.7,873.1 L666.6,873.9 L665.8,876.3 L677.9,878.7 L689.2,881.1 L698.8,885.9 L706.9,892.4 L703.6,897.2 L697.2,903.6 L695.6,906.0 L694.0,906.0 L689.2,899.6 L676.3,898.0 L660.2,898.0 L652.2,899.6 L645.7,903.6 L636.1,903.6 L629.7,900.4 L620.0,902.8 L616.0,906.0 L515.8,906.0 L511.0,898.8 L512.6,891.6 L522.2,890.8 L541.5,893.2 L560.8,895.6 L575.3,893.2 L576.9,889.2 L568.9,882.7 L564.1,876.3 L565.7,865.0 L554.4,861.0 L544.8,858.6 Z" fill="none" stroke="#555555" stroke-width="1.3" stroke-linejoin="round"/>
<path d="M549.6,881.1 L556.0,882.5 L562.5,886.0 L563.3,889.2 L556.0,886.5 L551.2,883.5 Z" fill="none" stroke="#555555" stroke-width="1.3" stroke-linejoin="round"/>
<path d="M742.2,903.6 L740.6,899.6 L745.5,894.8 L756.7,895.6 L777.6,896.4 L787.3,898.0 L793.7,899.6 L793.7,906.0 L742.5,906.0 Z" fill="none" stroke="#555555" stroke-width="1.3" stroke-linejoin="round"/>
<path d="M386.8,906.0 L386.5,901.4 L390.2,897.4 L397.5,897.1 L401.6,894.7 L406.9,895.4 L417.0,896.8 L421.7,897.1 L425.7,898.1 L432.4,899.1 L437.1,902.1 L444.5,906.0 Z" fill="none" stroke="#555555" stroke-width="1.3" stroke-linejoin="round"/>
<path d="M462.9,310.0 L467.6,320.3 L471.6,331.4 L477.1,341.7 L478.7,345.7 L479.1,352.1 L477.1,359.2 L471.6,361.2" fill="none" stroke="#4a4a4a" stroke-width="2.1" stroke-linejoin="round" stroke-linecap="round"/>
<path d="M468.4,362.0 L462.1,364.4" fill="none" stroke="#4a4a4a" stroke-width="2.1" stroke-linejoin="round" stroke-linecap="round"/>
<path d="M454.9,370.3 L446.2,379.0 L440.6,377.5" fill="none" stroke="#4a4a4a" stroke-width="2.1" stroke-linejoin="round" stroke-linecap="round"/>
<path d="M470.4,697.7 L473.0,699.0 L476.8,705.4 L484.4,714.2 L478.1,715.5" fill="none" stroke="#4a4a4a" stroke-width="2.1" stroke-linejoin="round" stroke-linecap="round"/>
<path d="M507.8,716.0 L512.0,718.6" fill="none" stroke="#4a4a4a" stroke-width="2.1" stroke-linejoin="round" stroke-linecap="round"/>
<path d="M483.3,730.5 L491.7,747.4 L498.5,750.8 L499.3,755.9" fill="none" stroke="#4a4a4a" stroke-width="2.1" stroke-linejoin="round" stroke-linecap="round"/>
<path d="M460.4,730.5 L466.0,733.0 L472.2,737.2" fill="none" stroke="#4a4a4a" stroke-width="2.1" stroke-linejoin="round" stroke-linecap="round"/>
<path d="M515.4,757.5 L523.9,760.9 L530.6,760.9 L529.0,767.7 L517.1,777.9" fill="none" stroke="#4a4a4a" stroke-width="2.1" stroke-linejoin="round" stroke-linecap="round"/>
<path d="M552.6,769.4 L558.0,770.5 L566.2,773.6" fill="none" stroke="#4a4a4a" stroke-width="2.1" stroke-linejoin="round" stroke-linecap="round"/>
<path d="M578.0,789.7 L584.8,791.4" fill="none" stroke="#4a4a4a" stroke-width="2.1" stroke-linejoin="round" stroke-linecap="round"/>
<path d="M589.9,786.3 L594.0,788.0 L600.0,789.7" fill="none" stroke="#4a4a4a" stroke-width="2.1" stroke-linejoin="round" stroke-linecap="round"/>
<path d="M556.0,798.2 L560.3,800.7" fill="none" stroke="#4a4a4a" stroke-width="2.1" stroke-linejoin="round" stroke-linecap="round"/>
<path d="M559.2,845.7 L568.9,847.3" fill="none" stroke="#4a4a4a" stroke-width="2.1" stroke-linejoin="round" stroke-linecap="round"/>
<path d="M345.4,758.2 L355.0,763.7" fill="none" stroke="#4a4a4a" stroke-width="2.1" stroke-linejoin="round" stroke-linecap="round"/>
<path d="M288.6,868.0 L293.0,869.0 L298.8,869.8" fill="none" stroke="#4a4a4a" stroke-width="2.1" stroke-linejoin="round" stroke-linecap="round"/>
<path d="M817.5,455.5 L820.5,453.0 L823.5,451.5" fill="none" stroke="#4a4a4a" stroke-width="2.1" stroke-linejoin="round" stroke-linecap="round"/>
<path d="M969.5,81.0 L973.0,82.5 L977.0,82.5 L982.5,80.5" fill="none" stroke="#4a4a4a" stroke-width="2.1" stroke-linejoin="round" stroke-linecap="round"/>
<path d="M813.0,896.0 L817.0,897.5" fill="none" stroke="#4a4a4a" stroke-width="2.1" stroke-linejoin="round" stroke-linecap="round"/>
<path d="M821.0,898.5 L826.0,896.0" fill="none" stroke="#4a4a4a" stroke-width="2.1" stroke-linejoin="round" stroke-linecap="round"/>
<path d="M830.0,895.5 L835.0,894.5" fill="none" stroke="#4a4a4a" stroke-width="2.1" stroke-linejoin="round" stroke-linecap="round"/>
<path d="M694.0,73.5 L696.0,72.5" fill="none" stroke="#4a4a4a" stroke-width="2.1" stroke-linejoin="round" stroke-linecap="round"/>
<path d="M700.0,72.3 L703.0,71.6" fill="none" stroke="#4a4a4a" stroke-width="2.1" stroke-linejoin="round" stroke-linecap="round"/>
<path d="M705.0,71.6 L707.5,71.1" fill="none" stroke="#4a4a4a" stroke-width="2.1" stroke-linejoin="round" stroke-linecap="round"/>
<path d="M875.0,904.5 L879.0,903.0" fill="none" stroke="#4a4a4a" stroke-width="2.1" stroke-linejoin="round" stroke-linecap="round"/>
<path d="M306.5,567.5 L312.0,578.0 L318.0,592.0 L323.0,605.0 L328.5,618.0" fill="none" stroke="#4a4a4a" stroke-width="2.1" stroke-linejoin="round" stroke-linecap="round"/>
<path d="M325.6,676.7 L321.0,682.0 L317.0,687.0 L313.3,691.1" fill="none" stroke="#2a2a2a" stroke-width="2.0" stroke-linecap="round"/>
<path d="M308.9,693.3 L303.0,695.5 L296.7,697.8" fill="none" stroke="#2a2a2a" stroke-width="2.0" stroke-linecap="round"/>
<path d="M292.0,697.2 L288.5,699.5" fill="none" stroke="#2a2a2a" stroke-width="2.0" stroke-linecap="round"/>
<path d="M284.0,699.8 L280.0,701.0 L276.5,702.0" fill="none" stroke="#2a2a2a" stroke-width="2.0" stroke-linecap="round"/>
<path d="M71.0,128.4 L83.7,128.4" fill="none" stroke="#303030" stroke-width="1.05" stroke-linejoin="round"/>
<path d="M93.2,153.5 L92.7,228.2 L89.6,234.2 L93.0,246.0 L87.9,256.2 L79.5,262.9 L78.6,271.4 L75.2,276.5 L73.5,283.2 L71.0,288.3" fill="none" stroke="#303030" stroke-width="1.05" stroke-linejoin="round"/>
<path d="M114.2,151.9 L180.2,151.9" fill="none" stroke="#303030" stroke-width="1.05" stroke-linejoin="round"/>
<path d="M180.2,152.1 L223.8,152.5" fill="none" stroke="#303030" stroke-width="1.05" stroke-linejoin="round"/>
<path d="M179.3,152.1 L179.3,237.5" fill="none" stroke="#303030" stroke-width="1.05" stroke-linejoin="round"/>
<path d="M75.2,278.2 L81.2,275.6 L89.6,274.8 L99.8,275.6 L105.7,278.2 L113.3,273.1 L121.8,276.5 L130.2,266.3 L138.7,272.2 L143.8,269.7 L148.9,262.9 L159.0,252.8 L162.4,248.6 L169.2,249.4 L179.3,246.0 L179.3,237.5 L181.0,236.7 L191.2,237.5 L199.6,245.2 L206.4,246.9 L214.9,251.1 L220.0,249.4 L226.7,251.9 L240.3,249.4 L250.4,257.9 L257.2,257.9 L264.0,251.1 L267.3,240.9 L275.8,240.9 L280.9,230.8 L289.4,228.2 L300.0,223.8 L305.7,216.8 L310.2,205.4 L314.6,195.2 L312.7,189.5 L316.5,187.6 L317.4,187.6" fill="none" stroke="#303030" stroke-width="1.05" stroke-linejoin="round"/>
<path d="M317.1,144.9 L317.4,217.5" fill="none" stroke="#303030" stroke-width="1.05" stroke-linejoin="round"/>
<path d="M317.4,217.5 L468.6,217.2" fill="none" stroke="#303030" stroke-width="1.05" stroke-linejoin="round"/>
<path d="M341.3,135.4 L341.3,144.3 L482.4,144.3" fill="none" stroke="#303030" stroke-width="1.05" stroke-linejoin="round"/>
<path d="M482.4,144.3 L489.4,149.4 L491.9,153.8 L493.8,159.5 L503.3,164.6 L498.3,169.0 L493.2,175.4 L490.0,176.7 L488.1,181.7 L487.6,189.0 L494.0,195.4 L501.6,203.3 L491.4,208.1 L488.9,210.6 L481.3,211.9 L476.2,215.7 L474.9,219.5" fill="none" stroke="#303030" stroke-width="1.05" stroke-linejoin="round"/>
<path d="M503.3,164.6 L528.1,176.0" fill="none" stroke="#303030" stroke-width="1.05" stroke-linejoin="round"/>
<path d="M468.6,217.2 L472.4,213.8 L478.7,213.8" fill="none" stroke="#303030" stroke-width="1.05" stroke-linejoin="round"/>
<path d="M468.6,217.2 L471.1,257.6 L491.4,257.6" fill="none" stroke="#303030" stroke-width="1.05" stroke-linejoin="round"/>
<path d="M468.6,272.2 L480.6,271.0" fill="none" stroke="#303030" stroke-width="1.05" stroke-linejoin="round"/>
<path d="M350.8,217.5 L350.8,233.3 L363.5,225.1 L367.3,225.1 L373.0,220.6 L381.3,223.2 L385.1,220.6 L392.7,218.1 L401.6,220.6 L406.0,228.9 L414.3,232.1 L414.3,235.9 L427.0,242.2 L429.5,241.0 L431.4,243.5 L428.9,246.0 L421.9,252.4 L419.4,260.0 L423.2,261.3 L429.5,258.1 L433.3,261.3 L434.6,263.8 L443.5,266.3 L449.8,268.9" fill="none" stroke="#303030" stroke-width="1.05" stroke-linejoin="round"/>
<path d="M387.0,226.3 L402.9,235.2 L406.0,228.9" fill="none" stroke="#303030" stroke-width="1.05" stroke-linejoin="round"/>
<path d="M387.0,226.3 L383.8,234.6 L376.2,242.2 L366.0,246.0 L358.4,256.2 L353.3,257.5 L345.7,253.7 L343.2,258.7 L335.6,267.6 L325.4,280.3 L324.1,286.7 L319.0,289.8 L307.6,291.1 L305.1,294.3 L300.0,294.9 L291.0,294.3 L282.6,296.8 L270.7,287.5" fill="none" stroke="#303030" stroke-width="1.05" stroke-linejoin="round"/>
<path d="M250.4,257.9 L250.4,267.2 L257.2,276.5 L270.7,287.5" fill="none" stroke="#303030" stroke-width="1.05" stroke-linejoin="round"/>
<path d="M270.7,287.5 L248.7,300.2 L230.1,312.0 L214.9,317.1" fill="none" stroke="#303030" stroke-width="1.05" stroke-linejoin="round"/>
<path d="M71.0,319.6 L76.1,319.6 L75.2,314.6 L121.8,314.6 L172.6,316.3 L214.9,317.1 L270.7,317.1 L311.0,317.3 L465.1,317.6" fill="none" stroke="#303030" stroke-width="1.05" stroke-linejoin="round"/>
<path d="M280.0,316.9 L277.5,323.7 L264.0,331.3 L250.4,334.7 L240.3,340.6 L223.3,348.2 L211.5,350.8 L204.7,357.5 L196.3,360.1 L196.3,367.7" fill="none" stroke="#303030" stroke-width="1.05" stroke-linejoin="round"/>
<path d="M71.0,367.7 L235.2,367.7" fill="none" stroke="#303030" stroke-width="1.05" stroke-linejoin="round"/>
<path d="M153.9,368.6 L159.0,393.1 L167.5,433.7 L175.1,450.2 L176.4,455.2 L172.5,459.0 L170.0,470.5 L171.3,478.1 L170.6,488.2 L172.5,495.9" fill="none" stroke="#303030" stroke-width="1.05" stroke-linejoin="round"/>
<path d="M90.0,496.5 L172.5,495.9 L177.6,505.4 L220.0,507.3 L261.9,509.8 L264.4,516.2 L267.6,514.9 L268.9,503.5 L273.3,502.2 L286.0,504.1" fill="none" stroke="#303030" stroke-width="1.05" stroke-linejoin="round"/>
<path d="M90.0,496.5 L90.7,500.9 L96.4,506.0 L95.8,514.9" fill="none" stroke="#303030" stroke-width="1.05" stroke-linejoin="round"/>
<path d="M235.2,367.7 L226.7,377.0 L241.9,385.5 L250.4,399.9 L270.7,416.8 L282.6,430.3 L286.0,440.0 L293.7,446.3 L296.2,454.0 L300.0,460.3 L305.1,462.9" fill="none" stroke="#303030" stroke-width="1.05" stroke-linejoin="round"/>
<path d="M235.2,367.7 L257.2,361.8 L299.5,363.5 L304.6,365.2 L308.3,368.9 L308.3,373.3 L344.4,374.2 L378.7,403.8" fill="none" stroke="#303030" stroke-width="1.05" stroke-linejoin="round"/>
<path d="M260.0,70.0 L265.1,93.5 L256.2,110.6 L253.7,120.8 L249.8,125.9 L241.6,132.2 L235.2,134.8 L232.7,139.8 L233.3,144.9 L237.8,150.0 L246.7,154.4 L255.6,154.4 L292.4,137.9 L325.4,132.2 L347.0,124.0 L367.3,116.3 L367.9,113.8 L364.8,110.6 L363.5,103.0 L360.3,97.3 L374.9,92.2 L435.4,92.2 L447.5,77.0 L458.9,70.0" fill="none" stroke="#555" stroke-width="1.3" stroke-linejoin="round"/>
<path d="M546.7,70.0 L544.1,77.6 L545.4,92.9 L549.2,94.1 L549.2,120.2" fill="none" stroke="#303030" stroke-width="1.05" stroke-linejoin="round"/>
<path d="M588.6,70.0 L586.0,80.2 L578.4,91.6 L575.9,103.0 L572.1,115.7 L574.6,120.8" fill="none" stroke="#303030" stroke-width="1.05" stroke-linejoin="round"/>
<path d="M621.6,70.0 L622.9,97.9 L629.2,109.4" fill="none" stroke="#303030" stroke-width="1.05" stroke-linejoin="round"/>
<path d="M549.2,120.2 L611.4,121.4 L616.5,118.3 L627.3,116.3" fill="none" stroke="#303030" stroke-width="1.05" stroke-linejoin="round"/>
<path d="M549.2,120.2 L541.6,141.7 L540.3,167.1 L542.2,169.0 L534.6,172.2 L536.5,175.4" fill="none" stroke="#303030" stroke-width="1.05" stroke-linejoin="round"/>
<path d="M541.6,142.4 L608.9,143.4" fill="none" stroke="#303030" stroke-width="1.05" stroke-linejoin="round"/>
<path d="M596.2,143.4 L595.6,164.6" fill="none" stroke="#303030" stroke-width="1.05" stroke-linejoin="round"/>
<path d="M608.9,143.4 L610.8,151.3" fill="none" stroke="#303030" stroke-width="1.05" stroke-linejoin="round"/>
<path d="M596.2,857.0 L599.4,865.0 L597.8,873.1 L596.2,881.1 L597.0,887.6 L589.8,893.2 L596.2,900.4 L597.8,905.4" fill="none" stroke="#303030" stroke-width="1.05" stroke-linejoin="round"/>
<path d="M74.4,368.6 L71.8,393.1" fill="none" stroke="#303030" stroke-width="1.05" stroke-linejoin="round"/>
<path d="M263.5,638.0 L266.0,640.5 L268.5,641.0" fill="none" stroke="#2a2a2a" stroke-width="1.7" stroke-linejoin="round" stroke-linecap="round"/>
<path d="M271.0,637.0 L273.5,635.0 L275.5,633.5" fill="none" stroke="#2a2a2a" stroke-width="1.7" stroke-linejoin="round" stroke-linecap="round"/>
<path d="M297.2,678.5 L299.5,677.5 L302.8,679.5 L300.0,681.0" fill="none" stroke="#2a2a2a" stroke-width="1.7" stroke-linejoin="round" stroke-linecap="round"/>
<path d="M308.5,452.8 L310.0,449.8 L312.3,450.8 L312.8,454.3 L314.8,451.0 L317.3,449.6 L318.3,452.3 L316.0,454.8" fill="none" stroke="#2a2a2a" stroke-width="1.7" stroke-linejoin="round" stroke-linecap="round"/>
<path d="M526.7,168.0 L529.3,172.2 L528.3,178.6 L524.6,183.9 L520.3,188.1" fill="none" stroke="#2a2a2a" stroke-width="1.7" stroke-linejoin="round" stroke-linecap="round"/>
<path d="M523.0,207.8 L522.2,212.0 L521.4,215.6 L518.2,223.0" fill="none" stroke="#2a2a2a" stroke-width="1.7" stroke-linejoin="round" stroke-linecap="round"/>
<path d="M491.7,207.7 L486.5,211.4 L479.0,214.6 L475.9,218.8 L474.8,224.1 L478.0,228.3" fill="none" stroke="#2a2a2a" stroke-width="1.7" stroke-linejoin="round" stroke-linecap="round"/>
<path d="M420.0,252.5 L420.5,259.0 L425.0,261.3 L433.0,259.5 L436.0,262.5 L445.0,267.3 L451.0,271.0 L453.2,275.0" fill="none" stroke="#2a2a2a" stroke-width="1.7" stroke-linejoin="round" stroke-linecap="round"/>
<path d="M426.1,266.3 L433.0,270.0 L440.0,275.0 L447.0,280.0 L453.2,284.4" fill="none" stroke="#2a2a2a" stroke-width="1.7" stroke-linejoin="round" stroke-linecap="round"/>
<path d="M421.0,293.4 L430.0,295.5 L437.0,297.0 L444.0,299.5 L450.0,302.0" fill="none" stroke="#2a2a2a" stroke-width="1.7" stroke-linejoin="round" stroke-linecap="round"/>
<path d="M437.1,288.4 L442.0,292.0 L448.2,295.5" fill="none" stroke="#2a2a2a" stroke-width="1.7" stroke-linejoin="round" stroke-linecap="round"/>
<path d="M429.5,270.0 L436.0,275.5 L443.5,281.4" fill="none" stroke="#2a2a2a" stroke-width="1.7" stroke-linejoin="round" stroke-linecap="round"/>
<path d="M440.1,252.2 L444.0,259.0 L448.0,265.0 L451.2,269.3" fill="none" stroke="#2a2a2a" stroke-width="1.7" stroke-linejoin="round" stroke-linecap="round"/>
<path d="M527.5,175.5 L526.5,181.0 L525.0,186.5" fill="none" stroke="#2a2a2a" stroke-width="1.7" stroke-linejoin="round" stroke-linecap="round"/>
<path d="M174.0,70.0 L174.0,906.0 M334.0,70.0 L334.0,906.0 M494.0,70.0 L494.0,906.0 M653.8,70.0 L653.8,906.0 M813.5,70.0 L813.5,906.0 M973.0,70.0 L973.0,906.0 M1133.0,70.0 L1133.0,906.0 M71.0,208.0 L1283.0,208.0 M71.0,368.0 L1283.0,368.0 M71.0,528.0 L1283.0,528.0 M71.0,688.0 L1283.0,688.0 M71.0,848.0 L1283.0,848.0" fill="none" stroke="#000" stroke-opacity="0.5" stroke-width="1.8" stroke-dasharray="1.8 2.8"/>
</g>
<text x="991.74" y="300.00" font-size="17.0" textLength="26.78" lengthAdjust="spacingAndGlyphs" fill="none" stroke="#ffffff" stroke-width="1.8" stroke-linejoin="round">216</text><text x="991.74" y="300.00" font-size="17.0" textLength="26.78" lengthAdjust="spacingAndGlyphs" fill="#333333" stroke="#333333" stroke-width="0.2">216</text>
<text x="990.75" y="366.80" font-size="17.0" textLength="27.29" lengthAdjust="spacingAndGlyphs" fill="none" stroke="#ffffff" stroke-width="1.8" stroke-linejoin="round">168</text><text x="990.75" y="366.80" font-size="17.0" textLength="27.29" lengthAdjust="spacingAndGlyphs" fill="#333333" stroke="#333333" stroke-width="0.2">168</text>
<text x="837.84" y="224.80" font-size="17.0" textLength="26.78" lengthAdjust="spacingAndGlyphs" fill="none" stroke="#ffffff" stroke-width="1.8" stroke-linejoin="round">216</text><text x="837.84" y="224.80" font-size="17.0" textLength="26.78" lengthAdjust="spacingAndGlyphs" fill="#333333" stroke="#333333" stroke-width="0.2">216</text>
<text x="740.25" y="385.20" font-size="17.0" textLength="27.18" lengthAdjust="spacingAndGlyphs" fill="none" stroke="#ffffff" stroke-width="1.8" stroke-linejoin="round">120</text><text x="740.25" y="385.20" font-size="17.0" textLength="27.18" lengthAdjust="spacingAndGlyphs" fill="#333333" stroke="#333333" stroke-width="0.2">120</text>
<text x="735.05" y="375.60" font-size="17.0" textLength="27.29" lengthAdjust="spacingAndGlyphs" fill="none" stroke="#ffffff" stroke-width="1.8" stroke-linejoin="round">168</text><text x="735.05" y="375.60" font-size="17.0" textLength="27.29" lengthAdjust="spacingAndGlyphs" fill="#333333" stroke="#333333" stroke-width="0.2">168</text>
<text x="602.25" y="529.10" font-size="17.0" textLength="27.18" lengthAdjust="spacingAndGlyphs" fill="none" stroke="#ffffff" stroke-width="1.8" stroke-linejoin="round">120</text><text x="602.25" y="529.10" font-size="17.0" textLength="27.18" lengthAdjust="spacingAndGlyphs" fill="#333333" stroke="#333333" stroke-width="0.2">120</text>
<text x="601.55" y="494.20" font-size="17.0" textLength="27.18" lengthAdjust="spacingAndGlyphs" fill="none" stroke="#ffffff" stroke-width="1.8" stroke-linejoin="round">120</text><text x="601.55" y="494.20" font-size="17.0" textLength="27.18" lengthAdjust="spacingAndGlyphs" fill="#333333" stroke="#333333" stroke-width="0.2">120</text>
<text x="591.55" y="522.40" font-size="17.0" textLength="27.18" lengthAdjust="spacingAndGlyphs" fill="none" stroke="#ffffff" stroke-width="1.8" stroke-linejoin="round">120</text><text x="591.55" y="522.40" font-size="17.0" textLength="27.18" lengthAdjust="spacingAndGlyphs" fill="#333333" stroke="#333333" stroke-width="0.2">120</text>
<text x="566.05" y="496.90" font-size="17.0" textLength="27.18" lengthAdjust="spacingAndGlyphs" fill="none" stroke="#ffffff" stroke-width="1.8" stroke-linejoin="round">120</text><text x="566.05" y="496.90" font-size="17.0" textLength="27.18" lengthAdjust="spacingAndGlyphs" fill="#333333" stroke="#333333" stroke-width="0.2">120</text>
<text x="527.75" y="484.20" font-size="17.0" textLength="27.18" lengthAdjust="spacingAndGlyphs" fill="none" stroke="#ffffff" stroke-width="1.8" stroke-linejoin="round">120</text><text x="527.75" y="484.20" font-size="17.0" textLength="27.18" lengthAdjust="spacingAndGlyphs" fill="#333333" stroke="#333333" stroke-width="0.2">120</text>
<text x="432.54" y="761.90" font-size="17.0" textLength="17.95" lengthAdjust="spacingAndGlyphs" fill="none" stroke="#ffffff" stroke-width="1.8" stroke-linejoin="round">24</text><text x="432.54" y="761.90" font-size="17.0" textLength="17.95" lengthAdjust="spacingAndGlyphs" fill="#333333" stroke="#333333" stroke-width="0.2">24</text>
<text x="428.74" y="736.70" font-size="17.0" textLength="17.95" lengthAdjust="spacingAndGlyphs" fill="none" stroke="#ffffff" stroke-width="1.8" stroke-linejoin="round">24</text><text x="428.74" y="736.70" font-size="17.0" textLength="17.95" lengthAdjust="spacingAndGlyphs" fill="#333333" stroke="#333333" stroke-width="0.2">24</text>
<text x="427.24" y="751.00" font-size="17.0" textLength="17.95" lengthAdjust="spacingAndGlyphs" fill="none" stroke="#ffffff" stroke-width="1.8" stroke-linejoin="round">24</text><text x="427.24" y="751.00" font-size="17.0" textLength="17.95" lengthAdjust="spacingAndGlyphs" fill="#333333" stroke="#333333" stroke-width="0.2">24</text>
<text x="425.24" y="736.70" font-size="17.0" textLength="17.95" lengthAdjust="spacingAndGlyphs" fill="none" stroke="#ffffff" stroke-width="1.8" stroke-linejoin="round">24</text><text x="425.24" y="736.70" font-size="17.0" textLength="17.95" lengthAdjust="spacingAndGlyphs" fill="#333333" stroke="#333333" stroke-width="0.2">24</text>
<text x="423.04" y="723.30" font-size="17.0" textLength="17.95" lengthAdjust="spacingAndGlyphs" fill="none" stroke="#ffffff" stroke-width="1.8" stroke-linejoin="round">24</text><text x="423.04" y="723.30" font-size="17.0" textLength="17.95" lengthAdjust="spacingAndGlyphs" fill="#333333" stroke="#333333" stroke-width="0.2">24</text>
<text x="419.74" y="728.60" font-size="17.0" textLength="17.95" lengthAdjust="spacingAndGlyphs" fill="none" stroke="#ffffff" stroke-width="1.8" stroke-linejoin="round">24</text><text x="419.74" y="728.60" font-size="17.0" textLength="17.95" lengthAdjust="spacingAndGlyphs" fill="#333333" stroke="#333333" stroke-width="0.2">24</text>
<text x="419.74" y="771.90" font-size="17.0" textLength="17.95" lengthAdjust="spacingAndGlyphs" fill="none" stroke="#ffffff" stroke-width="1.8" stroke-linejoin="round">24</text><text x="419.74" y="771.90" font-size="17.0" textLength="17.95" lengthAdjust="spacingAndGlyphs" fill="#333333" stroke="#333333" stroke-width="0.2">24</text>
<text x="416.34" y="771.90" font-size="17.0" textLength="17.95" lengthAdjust="spacingAndGlyphs" fill="none" stroke="#ffffff" stroke-width="1.8" stroke-linejoin="round">24</text><text x="416.34" y="771.90" font-size="17.0" textLength="17.95" lengthAdjust="spacingAndGlyphs" fill="#333333" stroke="#333333" stroke-width="0.2">24</text>
<text x="413.04" y="755.70" font-size="17.0" textLength="17.95" lengthAdjust="spacingAndGlyphs" fill="none" stroke="#ffffff" stroke-width="1.8" stroke-linejoin="round">24</text><text x="413.04" y="755.70" font-size="17.0" textLength="17.95" lengthAdjust="spacingAndGlyphs" fill="#333333" stroke="#333333" stroke-width="0.2">24</text>
<text x="402.62" y="559.10" font-size="17.0" textLength="18.47" lengthAdjust="spacingAndGlyphs" fill="none" stroke="#ffffff" stroke-width="1.8" stroke-linejoin="round">72</text><text x="402.62" y="559.10" font-size="17.0" textLength="18.47" lengthAdjust="spacingAndGlyphs" fill="#333333" stroke="#333333" stroke-width="0.2">72</text>
<text x="394.72" y="556.40" font-size="17.0" textLength="18.47" lengthAdjust="spacingAndGlyphs" fill="none" stroke="#ffffff" stroke-width="1.8" stroke-linejoin="round">72</text><text x="394.72" y="556.40" font-size="17.0" textLength="18.47" lengthAdjust="spacingAndGlyphs" fill="#333333" stroke="#333333" stroke-width="0.2">72</text>
<text x="390.65" y="483.80" font-size="17.0" textLength="27.18" lengthAdjust="spacingAndGlyphs" fill="none" stroke="#ffffff" stroke-width="1.8" stroke-linejoin="round">120</text><text x="390.65" y="483.80" font-size="17.0" textLength="27.18" lengthAdjust="spacingAndGlyphs" fill="#333333" stroke="#333333" stroke-width="0.2">120</text>
<text x="388.32" y="555.60" font-size="17.0" textLength="18.47" lengthAdjust="spacingAndGlyphs" fill="none" stroke="#ffffff" stroke-width="1.8" stroke-linejoin="round">72</text><text x="388.32" y="555.60" font-size="17.0" textLength="18.47" lengthAdjust="spacingAndGlyphs" fill="#333333" stroke="#333333" stroke-width="0.2">72</text>
<text x="382.02" y="567.50" font-size="17.0" textLength="18.47" lengthAdjust="spacingAndGlyphs" fill="none" stroke="#ffffff" stroke-width="1.8" stroke-linejoin="round">72</text><text x="382.02" y="567.50" font-size="17.0" textLength="18.47" lengthAdjust="spacingAndGlyphs" fill="#333333" stroke="#333333" stroke-width="0.2">72</text>
<text x="375.62" y="541.70" font-size="17.0" textLength="18.47" lengthAdjust="spacingAndGlyphs" fill="none" stroke="#ffffff" stroke-width="1.8" stroke-linejoin="round">72</text><text x="375.62" y="541.70" font-size="17.0" textLength="18.47" lengthAdjust="spacingAndGlyphs" fill="#333333" stroke="#333333" stroke-width="0.2">72</text>
<text x="362.92" y="538.90" font-size="17.0" textLength="18.47" lengthAdjust="spacingAndGlyphs" fill="none" stroke="#ffffff" stroke-width="1.8" stroke-linejoin="round">72</text><text x="362.92" y="538.90" font-size="17.0" textLength="18.47" lengthAdjust="spacingAndGlyphs" fill="#333333" stroke="#333333" stroke-width="0.2">72</text>
<text x="361.32" y="525.40" font-size="17.0" textLength="18.47" lengthAdjust="spacingAndGlyphs" fill="none" stroke="#ffffff" stroke-width="1.8" stroke-linejoin="round">72</text><text x="361.32" y="525.40" font-size="17.0" textLength="18.47" lengthAdjust="spacingAndGlyphs" fill="#333333" stroke="#333333" stroke-width="0.2">72</text>
<text x="355.02" y="523.80" font-size="17.0" textLength="18.47" lengthAdjust="spacingAndGlyphs" fill="none" stroke="#ffffff" stroke-width="1.8" stroke-linejoin="round">72</text><text x="355.02" y="523.80" font-size="17.0" textLength="18.47" lengthAdjust="spacingAndGlyphs" fill="#333333" stroke="#333333" stroke-width="0.2">72</text>
<text x="349.42" y="522.60" font-size="17.0" textLength="18.47" lengthAdjust="spacingAndGlyphs" fill="none" stroke="#ffffff" stroke-width="1.8" stroke-linejoin="round">72</text><text x="349.42" y="522.60" font-size="17.0" textLength="18.47" lengthAdjust="spacingAndGlyphs" fill="#333333" stroke="#333333" stroke-width="0.2">72</text>
<text x="346.22" y="490.50" font-size="17.0" textLength="18.47" lengthAdjust="spacingAndGlyphs" fill="none" stroke="#ffffff" stroke-width="1.8" stroke-linejoin="round">72</text><text x="346.22" y="490.50" font-size="17.0" textLength="18.47" lengthAdjust="spacingAndGlyphs" fill="#333333" stroke="#333333" stroke-width="0.2">72</text>
<text x="276.15" y="458.90" font-size="17.0" textLength="27.18" lengthAdjust="spacingAndGlyphs" fill="none" stroke="#ffffff" stroke-width="1.8" stroke-linejoin="round">120</text><text x="276.15" y="458.90" font-size="17.0" textLength="27.18" lengthAdjust="spacingAndGlyphs" fill="#333333" stroke="#333333" stroke-width="0.2">120</text>
<text x="1054.50" y="863.10" font-size="22" font-weight="bold" textLength="216.60" lengthAdjust="spacingAndGlyphs" fill="#2b2b2b">Plot by Tomer Burg</text>
<text x="951.81" y="891.30" font-size="22" font-weight="bold" textLength="315.62" lengthAdjust="spacingAndGlyphs" fill="#2b2b2b">www.polarwx.com/tropical/</text>
<rect x="71.5" y="70.5" width="1211" height="835" fill="none" stroke="#000" stroke-width="1.3"/>
<text x="13.20" y="213.90" font-size="21.6" textLength="48.58" lengthAdjust="spacingAndGlyphs" fill="#000">40°N</text>
<text x="12.89" y="373.90" font-size="21.6" textLength="48.89" lengthAdjust="spacingAndGlyphs" fill="#000">35°N</text>
<text x="12.89" y="533.90" font-size="21.6" textLength="48.89" lengthAdjust="spacingAndGlyphs" fill="#000">30°N</text>
<text x="12.58" y="693.90" font-size="21.6" textLength="49.22" lengthAdjust="spacingAndGlyphs" fill="#000">25°N</text>
<text x="12.58" y="853.90" font-size="21.6" textLength="49.22" lengthAdjust="spacingAndGlyphs" fill="#000">20°N</text>
<text x="148.12" y="928.60" font-size="21.3" textLength="50.99" lengthAdjust="spacingAndGlyphs" fill="#000">85°W</text>
<text x="308.12" y="928.60" font-size="21.3" textLength="50.99" lengthAdjust="spacingAndGlyphs" fill="#000">80°W</text>
<text x="467.92" y="928.60" font-size="21.3" textLength="51.19" lengthAdjust="spacingAndGlyphs" fill="#000">75°W</text>
<text x="627.72" y="928.60" font-size="21.3" textLength="51.19" lengthAdjust="spacingAndGlyphs" fill="#000">70°W</text>
<text x="787.42" y="928.60" font-size="21.3" textLength="51.19" lengthAdjust="spacingAndGlyphs" fill="#000">65°W</text>
<text x="946.92" y="928.60" font-size="21.3" textLength="51.19" lengthAdjust="spacingAndGlyphs" fill="#000">60°W</text>
<text x="1107.12" y="928.60" font-size="21.3" textLength="50.99" lengthAdjust="spacingAndGlyphs" fill="#000">55°W</text>
<text x="71.20" y="30.90" font-size="27.3" font-weight="bold" textLength="510.87" lengthAdjust="spacingAndGlyphs" fill="#000">Invest 94L • Deterministic Model Tracks</text>
<text x="70.98" y="58.60" font-size="24.1" textLength="342.37" lengthAdjust="spacingAndGlyphs" fill="#333">Raw model tracks (late arriving)</text>
<text x="861.72" y="58.90" font-size="23.1" textLength="419.21" lengthAdjust="spacingAndGlyphs" fill="#000">Initialized: 0600 UTC 27 September 2025</text>
<rect x="1294.5" y="73.5" width="185" height="327.5" rx="3.5" fill="#ffffff" fill-opacity="0.85" stroke="#cccccc" stroke-width="1.2"/>
<line x1="1301" y1="89.90" x2="1350" y2="89.90" stroke="#000000" stroke-width="4"/>
<text x="1365.70" y="97.80" font-size="23.0" textLength="49.93" lengthAdjust="spacingAndGlyphs" fill="#000">NHC</text>
<line x1="1301" y1="122.12" x2="1350" y2="122.12" stroke="#0000ff" stroke-width="4"/>
<text x="1365.79" y="130.02" font-size="23.0" textLength="43.51" lengthAdjust="spacingAndGlyphs" fill="#000">GFS</text>
<line x1="1301" y1="154.34" x2="1350" y2="154.34" stroke="#ff1493" stroke-width="4"/>
<text x="1365.81" y="162.24" font-size="23.0" textLength="48.20" lengthAdjust="spacingAndGlyphs" fill="#000">ECM</text>
<line x1="1301" y1="186.56" x2="1350" y2="186.56" stroke="#ff8c00" stroke-width="4"/>
<text x="1365.69" y="194.46" font-size="23.0" textLength="70.48" lengthAdjust="spacingAndGlyphs" fill="#000">HMON</text>
<line x1="1301" y1="218.78" x2="1350" y2="218.78" stroke="#66cdaa" stroke-width="4"/>
<text x="1365.84" y="226.68" font-size="23.0" textLength="63.86" lengthAdjust="spacingAndGlyphs" fill="#000">HWRF</text>
<line x1="1301" y1="251.00" x2="1350" y2="251.00" stroke="#c45af6" stroke-width="4"/>
<text x="1365.76" y="258.90" font-size="23.0" textLength="81.68" lengthAdjust="spacingAndGlyphs" fill="#000">HAFS-A</text>
<line x1="1301" y1="283.22" x2="1350" y2="283.22" stroke="#8512ba" stroke-width="4"/>
<text x="1365.78" y="291.12" font-size="23.0" textLength="80.71" lengthAdjust="spacingAndGlyphs" fill="#000">HAFS-B</text>
<line x1="1301" y1="315.44" x2="1350" y2="315.44" stroke="#3d9b14" stroke-width="4"/>
<text x="1365.76" y="323.34" font-size="23.0" textLength="95.08" lengthAdjust="spacingAndGlyphs" fill="#000">COAMPS</text>
<line x1="1302.9" y1="347.66" x2="1342" y2="347.66" stroke="#ee82ee" stroke-width="4" stroke-dasharray="15.9 7.3"/>
<text x="1365.73" y="355.56" font-size="23.0" textLength="103.08" lengthAdjust="spacingAndGlyphs" fill="#000">DeepMind</text>
<line x1="1303.3" y1="379.88" x2="1344" y2="379.88" stroke="#000000" stroke-width="3.7" stroke-dasharray="3.7 5.5"/>
<text x="1365.76" y="387.78" font-size="23.0" textLength="105.08" lengthAdjust="spacingAndGlyphs" fill="#000">Best Track</text>
</svg></body></html>
